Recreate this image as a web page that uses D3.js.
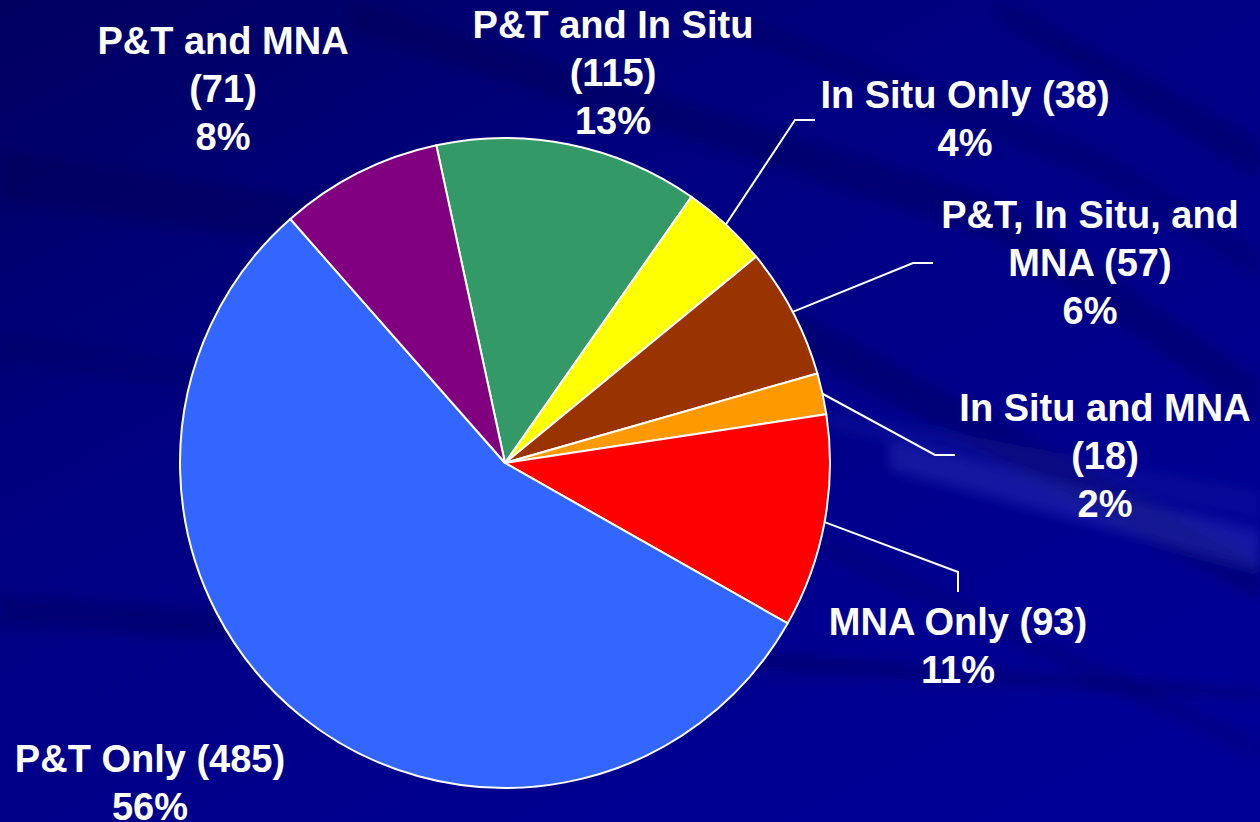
<!DOCTYPE html>
<html><head><meta charset="utf-8">
<script src="https://cdn.jsdelivr.net/npm/d3@7"></script>
<style>html,body{margin:0;padding:0;background:#000088;overflow:hidden}svg{display:block}</style>
</head><body>
<svg id="c" width="1260" height="822"></svg>
<script>
// ---- data ----
const categories = ["P&T and In Situ","In Situ Only","P&T, In Situ, and MNA","In Situ and MNA","MNA Only","P&T Only","P&T and MNA"];
const counts = [115, 38, 57, 18, 93, 485, 71];
const percentLabels = ["13%","4%","6%","2%","11%","56%","8%"];
const labelLines = [
  ["P&T and In Situ","(115)","13%"],
  ["In Situ Only (38)","4%"],
  ["P&T, In Situ, and","MNA (57)","6%"],
  ["In Situ and MNA","(18)","2%"],
  ["MNA Only (93)","11%"],
  ["P&T Only (485)","56%"],
  ["P&T and MNA","(71)","8%"]
];
const colors = ["#339966","#FFFF00","#993300","#FF9900","#FF0000","#3366FF","#800080"];

// ---- layout ----
const W = 1260, H = 822;
const cx = 505, cy = 463, R = 325;
const startDeg = -12.2;
const labelPos = [[613,38],[965,108],[1090,228],[1105,421],[958,635],[150,772],[223,54]];
const lineH = 48;
const leaders = [null,[795,120,815,120],[913,263,933,263],[935,455,955,455],[958,572,958,592],null,null];

const svg = d3.select("#c");
const defs = svg.append("defs");
const bg = defs.append("linearGradient").attr("id","bg").attr("x1","0").attr("y1","0").attr("x2","0.8").attr("y2","1");
bg.append("stop").attr("offset","0").attr("stop-color","#000060");
bg.append("stop").attr("offset","0.4").attr("stop-color","#000082");
bg.append("stop").attr("offset","1").attr("stop-color","#000096");
defs.append("filter").attr("id","blur").attr("x","-10%").attr("y","-10%").attr("width","120%").attr("height","120%")
  .append("feGaussianBlur").attr("stdDeviation",6);
svg.append("rect").attr("width",W).attr("height",H).attr("fill","url(#bg)");

// background streaks
const streaks = [
  {d:"M0,150 L700,260 L1260,560 L1260,600 L700,300 L0,200 Z", c:"#00004a", o:0.3},
  {d:"M0,330 L600,430 L1260,740 L1260,760 L600,450 L0,360 Z", c:"#00004a", o:0.2},
  {d:"M350,0 L1000,200 L1260,380 L1260,420 L1000,240 L350,30 Z", c:"#00004a", o:0.3},
  {d:"M700,0 L1100,150 L1260,250 L1260,280 L1100,180 L700,20 Z", c:"#00004a", o:0.25},
  {d:"M1000,0 L1260,140 L1260,180 L1000,20 Z", c:"#00004a", o:0.3},
  {d:"M0,595 L600,640 L1260,690 L1260,700 L600,660 L0,625 Z", c:"#00004a", o:0.3},
  {d:"M890,440 L1260,530 L1260,570 L890,470 Z", c:"#4a5ad8", o:0.25},
  {d:"M830,410 L1260,490 L1260,520 L830,430 Z", c:"#3a48c8", o:0.12}
];
svg.append("g").attr("filter","url(#blur)").selectAll("path").data(streaks).join("path")
  .attr("d",d=>d.d).attr("fill",d=>d.c).attr("opacity",d=>d.o);

// pie
const pie = d3.pie().sort(null).value(d=>d)
  .startAngle(startDeg*Math.PI/180).endAngle(startDeg*Math.PI/180 + 2*Math.PI);
const arcs = pie(counts);
const arc = d3.arc().innerRadius(0).outerRadius(R);
const g = svg.append("g").attr("transform",`translate(${cx},${cy})`);
g.selectAll("path").data(arcs).join("path")
  .attr("d",arc).attr("fill",(d,i)=>colors[i])
  .attr("stroke","#fff").attr("stroke-width",2).attr("stroke-linejoin","round");

// leaders
arcs.forEach((a,i)=>{
  const L = leaders[i]; if(!L) return;
  const ang = (a.startAngle+a.endAngle)/2;
  const sx = cx + R*Math.sin(ang), sy = cy - R*Math.cos(ang);
  svg.append("path")
    .attr("d",`M${sx},${sy}L${L[0]},${L[1]}L${L[2]},${L[3]}`)
    .attr("fill","none").attr("stroke","#fff").attr("stroke-width",2);
});

// labels
const lg = svg.append("g").attr("font-family","'Liberation Sans', Arial, sans-serif")
  .attr("font-weight","bold").attr("font-size",38).attr("fill","#fff").attr("text-anchor","middle");
labelLines.forEach((lines,i)=>{
  const t = lg.append("text").attr("x",labelPos[i][0]).attr("y",labelPos[i][1]);
  lines.forEach((s,j)=>{
    t.append("tspan").attr("x",labelPos[i][0]).attr("y",labelPos[i][1]+j*lineH).text(s);
  });
});
</script>
</body></html>
